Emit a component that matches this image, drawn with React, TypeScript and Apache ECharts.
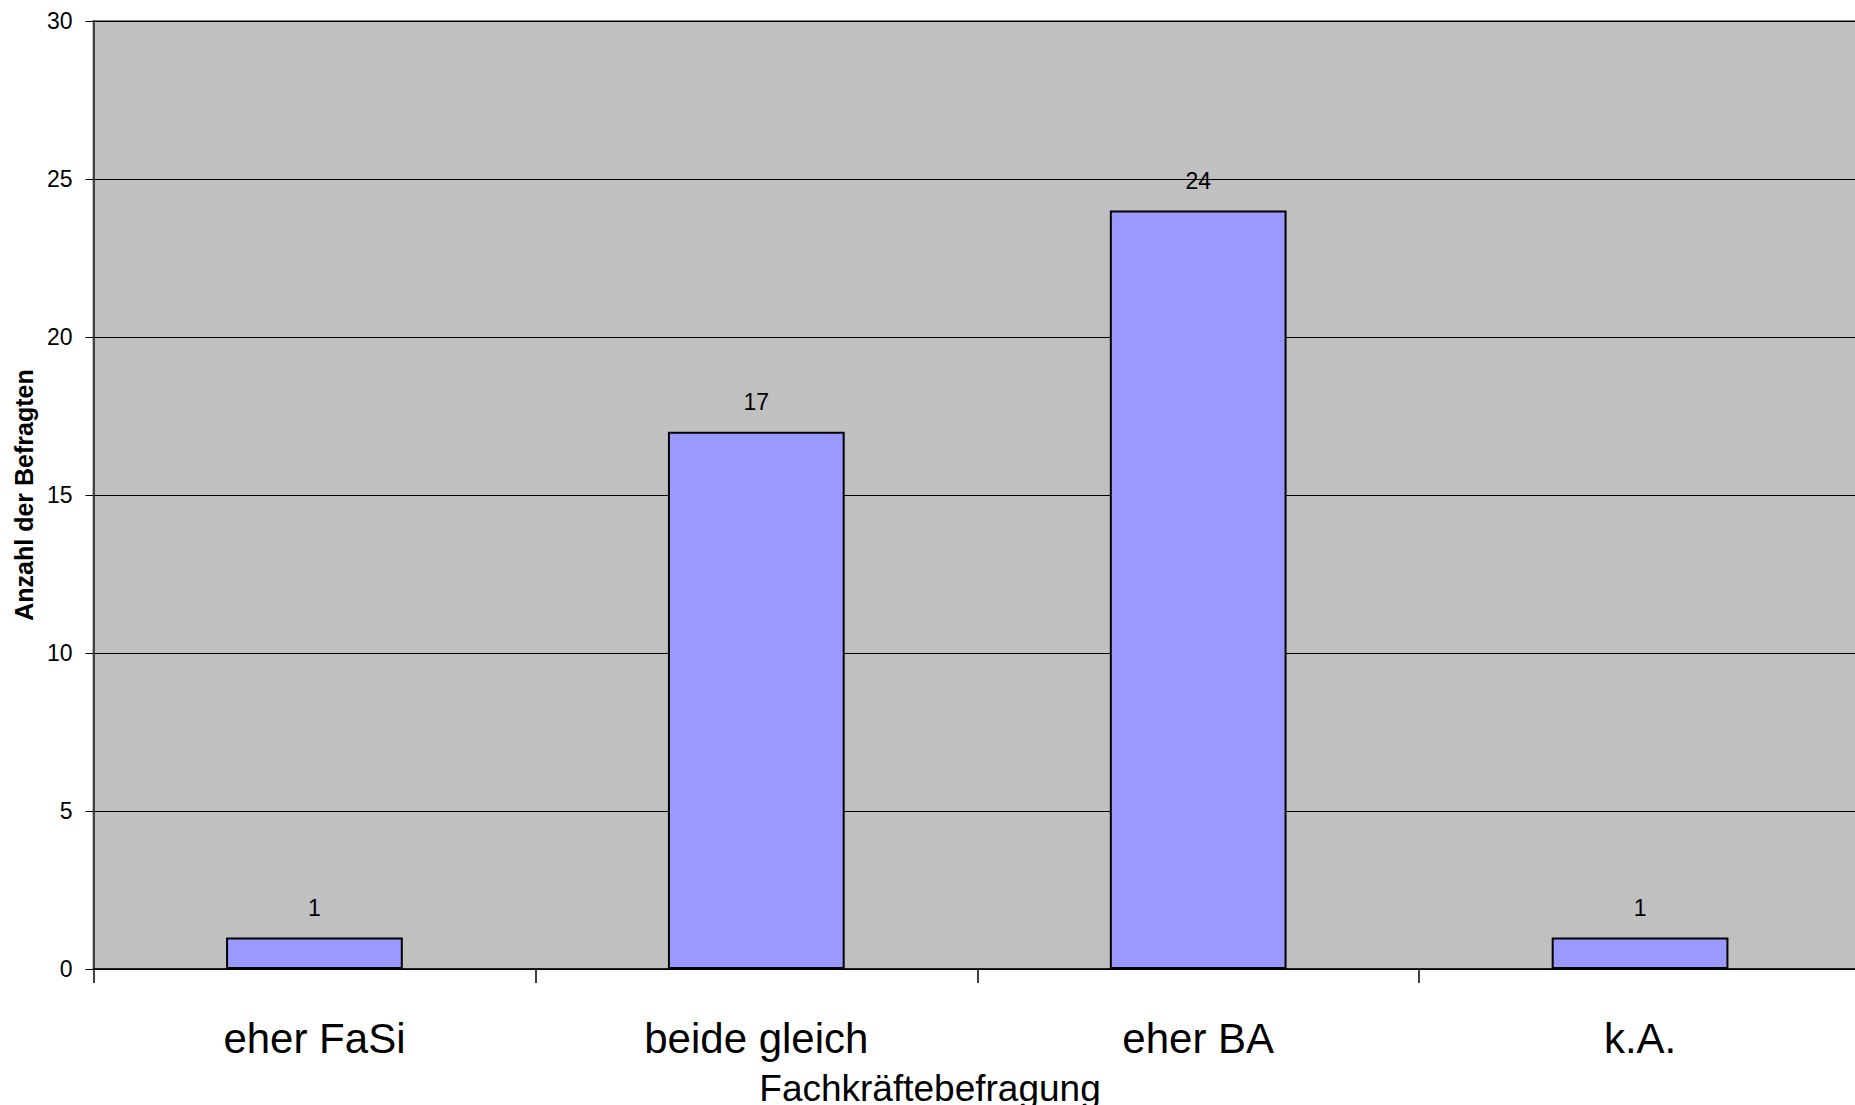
import React, { useEffect, useRef } from "react";
import * as echarts from "echarts";

const categories: string[] = ["eher FaSi", "beide gleich", "eher BA", "k.A."];
const counts: number[] = [1, 17, 24, 1];
const yTicks = { min: 0, max: 30, interval: 5 };
const yTitle = "Anzahl der Befragten";
const xTitle = "Fachkräftebefragung";

const FONT = "'Liberation Sans', Arial, sans-serif";

export default function App() {
  const ref = useRef<HTMLDivElement>(null);

  useEffect(() => {
    if (!ref.current) return;
    const chart = echarts.init(ref.current, undefined, { renderer: "svg" });
    chart.setOption({
      animation: false,
      backgroundColor: "#ffffff",
      textStyle: { fontFamily: FONT },
      grid: {
        left: 93.5,
        top: 21,
        right: 0,
        bottom: 136,
        show: true,
        backgroundColor: "#C0C0C0",
        borderColor: "#808080",
        borderWidth: 2,
      },
      xAxis: {
        type: "category",
        data: categories,
        boundaryGap: true,
        axisLine: { show: true, lineStyle: { color: "#000000", width: 1.5 } },
        axisTick: { show: true, length: 14, alignWithLabel: false, lineStyle: { color: "#000000", width: 1.5 } },
        axisLabel: {
          interval: 0,
          margin: 48,
          color: "#000000",
          fontSize: 42,
          fontFamily: FONT,
        },
        splitLine: { show: false },
      },
      yAxis: {
        type: "value",
        min: yTicks.min,
        max: yTicks.max,
        interval: yTicks.interval,
        name: yTitle,
        nameLocation: "middle",
        nameRotate: 90,
        nameGap: 56,
        nameTextStyle: {
          fontSize: 25,
          fontWeight: "bold",
          color: "#000000",
          fontFamily: FONT,
        },
        axisLine: { show: true, lineStyle: { color: "#404040", width: 2 } },
        axisTick: { show: true, length: 8, lineStyle: { color: "#000000", width: 1 } },
        axisLabel: {
          margin: 21,
          color: "#000000",
          fontSize: 23,
          fontFamily: FONT,
        },
        splitLine: { show: true, lineStyle: { color: "#000000", width: 1 } },
      },
      graphic: [
        {
          type: "text",
          x: 930,
          y: 1070,
          style: {
            text: xTitle,
            fill: "#000000",
            font: `37px ${FONT}`,
            textAlign: "center",
            textVerticalAlign: "top",
          },
        },
      ],
      series: [
        {
          type: "bar",
          data: counts,
          barWidth: "40%",
          itemStyle: {
            color: "#9999FF",
            borderColor: "#000000",
            borderWidth: 2,
          },
          label: {
            show: true,
            position: "top",
            distance: 18,
            color: "#000000",
            fontSize: 23,
            fontFamily: FONT,
          },
        },
      ],
    });
    return () => chart.dispose();
  }, []);

  return (
    <div
      ref={ref}
      style={{ position: "fixed", left: 0, top: 0, width: 1861, height: 1105 }}
    />
  );
}
